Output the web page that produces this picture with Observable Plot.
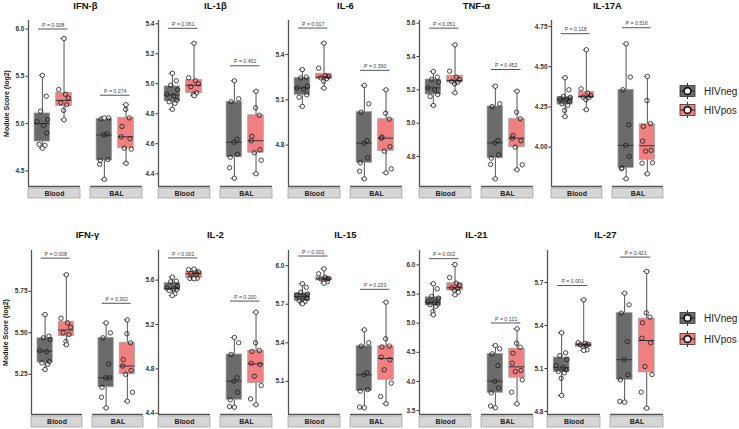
<!DOCTYPE html>
<html><head><meta charset="utf-8">
<script src="https://cdn.jsdelivr.net/npm/d3@7"></script>
<script src="https://cdn.jsdelivr.net/npm/@observablehq/plot@0.6"></script>
<style>
body{margin:0;background:#fff;font-family:"Liberation Sans",Arial,sans-serif}
#root{position:relative;width:739px;height:429px;overflow:hidden}
#root > svg{position:absolute}
</style></head><body><div id="root"></div>
<script>
const cytokines = ["IFN-β","IL-1β","IL-6","TNF-α","IL-17A","IFN-γ","IL-2","IL-15","IL-21","IL-27"];
const tissues = ["Blood","BAL"];
const groups = ["HIVneg","HIVpos"];

const bloodNeg = [
  [5.51,5.29,5.13,5.04,5.02,4.98,4.90,4.78,4.77,4.74],
  [5.07,5.02,4.99,4.96,4.93,4.92,4.89,4.88,4.87,4.83],
  [5.30,5.25,5.245,5.19,5.178,5.17,5.133,5.117,5.056],
  [5.31,5.276,5.262,5.246,5.212,5.20,5.172,5.16,5.106],
  [4.432,4.357,4.315,4.31,4.30,4.295,4.285,4.27,4.26,4.228,4.19],
  [5.61,5.48,5.47,5.46,5.393,5.387,5.327,5.319,5.31,5.279],
  [5.627,5.59,5.585,5.545,5.53,5.522,5.515,5.506,5.477,5.461],
  [5.86,5.832,5.793,5.78,5.77,5.76,5.745,5.73,5.72,5.71,5.703],
  [5.676,5.59,5.458,5.43,5.37,5.36,5.33,5.316,5.29,5.20,5.144],
  [5.349,5.209,5.19,5.163,5.121,5.105,5.091,5.079,5.07,5.032,4.912]
];
const bloodPos = [
  [5.90,5.36,5.31,5.27,5.22,5.20,5.14,5.04],
  [5.27,5.04,5.02,5.00,4.98,4.94,4.93,4.92],
  [5.475,5.309,5.26,5.255,5.245,5.24,5.223,5.177],
  [5.47,5.312,5.276,5.262,5.25,5.246,5.236,5.182],
  [4.606,4.363,4.336,4.32,4.311,4.308,4.295,4.233],
  [5.85,5.588,5.56,5.534,5.50,5.49,5.448,5.428],
  [5.70,5.695,5.678,5.675,5.66,5.655,5.62,5.617,5.615,5.612],
  [5.975,5.937,5.91,5.90,5.897,5.895,5.885,5.875,5.863],
  [6.007,5.784,5.686,5.647,5.607,5.60,5.56,5.532,5.487],
  [5.579,5.28,5.275,5.27,5.265,5.26,5.25,5.23,5.226]
];
const balNeg = [
  [5.06,5.06,5.05,4.89,4.88,4.62,4.61,4.57,4.41],
  [5.02,4.90,4.88,4.63,4.61,4.53,4.51,4.44,4.37],
  [5.195,5.074,5.018,4.83,4.813,4.716,4.683,4.627,4.577],
  [5.222,5.116,5.10,4.896,4.882,4.81,4.79,4.752,4.666],
  [4.643,4.436,4.357,4.139,4.011,3.942,3.87,3.866,3.803],
  [5.56,5.50,5.47,5.313,5.229,5.229,5.172,5.112,5.048],
  [5.083,5.035,4.93,4.72,4.689,4.59,4.522,4.46,4.455],
  [5.501,5.40,5.374,5.167,5.151,5.036,5.024,4.90,4.894],
  [4.617,4.56,4.475,4.274,4.005,3.892,3.806,3.58,3.549],
  [5.625,5.544,5.486,5.288,5.161,5.056,5.021,4.87,4.865]
];
const balPos = [
  [5.20,5.15,5.06,4.97,4.86,4.84,4.74,4.73,4.58],
  [4.95,4.84,4.79,4.65,4.62,4.56,4.54,4.49,4.40],
  [5.166,5.011,4.972,4.853,4.846,4.79,4.76,4.643,4.617],
  [5.192,5.066,5.026,4.926,4.91,4.894,4.856,4.75,4.72],
  [4.44,4.29,4.146,4.129,4.037,3.98,3.975,3.903,3.90,3.834],
  [5.578,5.494,5.44,5.339,5.30,5.273,5.25,5.142,5.088],
  [5.311,5.035,4.966,4.957,4.85,4.84,4.734,4.65,4.53,4.477],
  [5.716,5.431,5.375,5.368,5.288,5.268,5.19,5.086,4.982,4.926],
  [4.904,4.657,4.588,4.485,4.314,4.189,4.17,4.029,3.817,3.617],
  [5.777,5.488,5.458,5.419,5.311,5.279,5.114,5.058,4.935,4.823]
];
const pBlood = ["P = 0.008","P = 0.061","P = 0.017","P = 0.051","P = 0.118","P = 0.008","P < 0.001","P < 0.001","P = 0.002","P = 0.001"];
const pBAL = ["P = 0.274","P = 0.452","P = 0.390","P = 0.452","P = 0.516","P = 0.302","P = 0.200","P = 0.223","P = 0.121","P = 0.421"];
const yTickLabels = [
  ["4.5","5.0","5.5","6.0"],
  ["4.4","4.6","4.8","5.0","5.2","5.4"],
  ["4.8","5.1","5.4"],
  ["4.8","5.0","5.2","5.4","5.6"],
  ["4.00","4.25","4.50","4.75"],
  ["5.25","5.50","5.75"],
  ["4.4","4.8","5.2","5.6"],
  ["5.1","5.4","5.7","6.0"],
  ["3.5","4.0","4.5","5.0","5.5","6.0"],
  ["4.8","5.1","5.4","5.7"]
];
const yLimits = [
  [4.335,6.09],[4.315,5.422],[4.526,5.625],[4.62,5.616],[3.755,4.788],
  [5.008,5.996],[4.389,5.867],[4.842,6.118],[3.434,6.247],[4.779,5.923]
];
const yLabel = "Module Score (log2)";

// layout (pixels)
const panelX = [[27,143],[157,273],[288,403],[418,534],[551,664],
                [31,143],[157,273],[288,403],[418,534],[547,664]];
const groupColor = ["#6b6b6b","#f08080"];
const jitter = [-0.22,0.18,-0.08,0.24,-0.25,0.06,0.2,-0.15,0.12,-0.02,0.15,-0.19];
const font = "'Liberation Sans', Arial, Helvetica, sans-serif";

const root = document.getElementById("root");

function panel(i) {
  const row = i < 5 ? 0 : 1;
  const [ax, rx] = panelX[i];
  const W = rx - ax;
  const mL = 27, mR = 2;
  const top = row === 0 ? 0 : 214;
  const height = row === 0 ? 200 : 215;
  const mT = row === 0 ? 20 : 36;
  const mB = row === 0 ? 14 : 15;
  const innerH = height - mT - mB;
  const [lo, hi] = yLimits[i];
  const ppu = innerH / (hi - lo);
  const px = p => p / ppu;
  const pad = 10 / ((W + 10) / 2);
  const step = W / (2 - pad), bw = step * (1 - pad);
  const xMin = -0.64, xMax = 1.76;
  const unit = bw / (xMax - xMin);

  const lists = [[bloodNeg[i], balNeg[i]], [bloodPos[i], balPos[i]]];
  const stats = [];
  const points = [];
  tissues.forEach((t, ti) => groups.forEach((g, gi) => {
    const v = lists[gi][ti];
    const s = {tissue: t, group: g, xc: gi,
      q1: d3.quantile(v, 0.25), med: d3.quantile(v, 0.5), q3: d3.quantile(v, 0.75),
      min: d3.min(v), max: d3.max(v)};
    stats.push(s);
    let endSeen = {min: false, max: false};
    v.forEach((y, j) => {
      let end = false;
      if (y === s.max && !endSeen.max) { end = true; endSeen.max = true; }
      else if (y === s.min && !endSeen.min) { end = true; endSeen.min = true; }
      points.push({tissue: t, group: g, y, end, x: gi + (end ? 0 : jitter[(j + gi * 3 + ti * 5) % jitter.length])});
    });
  }));
  const caps = stats.flatMap(s => [{...s, v: s.min}, {...s, v: s.max}]);
  const brackets = tissues.map((t, k) => ({tissue: t, label: k === 0 ? pBlood[i] : pBAL[i],
    y: d3.max(stats.filter(s => s.tissue === t), s => s.max) + 0.1}));
  const strips = tissues.map(t => ({tissue: t}));
  const tickVals = yTickLabels[i].map(Number);
  const titleX = xMin + (W / 2) / unit;
  const stripH = row === 0 ? 10 : 11;

  const marks = [
    Plot.rect(strips, {fx: "tissue", x1: xMin, x2: xMax, y1: lo - px(2), y2: lo - px(2 + stripH),
      fill: "#d6d6d6", stroke: "#a6a6a6", strokeWidth: 0.8}),
    Plot.text(strips, {fx: "tissue", x: (xMin + xMax) / 2, y: lo - px(2 + stripH / 2), text: "tissue",
      fontSize: 7, fontWeight: "bold", fill: "#222"}),
    Plot.ruleY([lo], {stroke: "#555", strokeWidth: 1.3}),
    Plot.ruleX([{tissue: "Blood"}], {fx: "tissue", x: () => xMin, stroke: "#555", strokeWidth: 1.3}),
    Plot.ruleX(stats, {fx: "tissue", x: "xc", y1: "min", y2: "max", stroke: "#555", strokeWidth: 1}),
    Plot.ruleY(caps, {fx: "tissue", y: "v", x1: d => d.xc - 0.15, x2: d => d.xc + 0.15, stroke: "#444", strokeWidth: 0.9}),
    Plot.rect(stats, {fx: "tissue", x1: d => d.xc - 0.36, x2: d => d.xc + 0.36, y1: "q1", y2: "q3",
      fill: "group", stroke: "#a0a0a0", strokeWidth: 0.7}),
    Plot.ruleY(stats, {fx: "tissue", y: "med", x1: d => d.xc - 0.36, x2: d => d.xc + 0.36, stroke: "#333", strokeWidth: 1}),
    Plot.dot(points.filter(d => !d.end), {fx: "tissue", x: "x", y: "y", r: 2.2, stroke: "#1a1a1a", strokeWidth: 0.8, fill: "none"}),
    Plot.dot(points.filter(d => d.end), {fx: "tissue", x: "x", y: "y", r: 2.2, stroke: "#1a1a1a", strokeWidth: 0.8, fill: "white"}),
    Plot.ruleY(brackets, {fx: "tissue", y: "y", x1: -0.18, x2: 1.18, stroke: "#555", strokeWidth: 1}),
    Plot.text(brackets, {fx: "tissue", x: 0.5, y: "y", dy: -4, text: "label", fontSize: 5.2, fontWeight: "normal", fill: "#444"}),
    Plot.text([{tissue: "Blood", t: cytokines[i]}], {fx: "tissue", x: () => titleX, frameAnchor: "top", lineAnchor: "middle",
      dy: row === 0 ? -14.5 : -16, text: "t", fontSize: 9.5, fontWeight: "bold", fill: "#111"})
  ];
  if (i === 0 || i === 5) {
    marks.push(Plot.text([{tissue: "Blood", t: yLabel}], {fx: "tissue", x: () => xMin, dx: -(ax - 5), rotate: -90,
      text: "t", fontSize: 7, fontWeight: "bold", fill: "#111"}));
  }

  const plot = Plot.plot({
    width: mL + W + mR, height,
    marginLeft: mL, marginRight: mR, marginTop: mT, marginBottom: mB,
    style: {fontFamily: font, fontSize: "6.5px", fontWeight: "bold", color: "#333", background: "transparent", overflow: "visible"},
    fx: {domain: tissues, paddingInner: pad, paddingOuter: 0, axis: null, label: null},
    x: {domain: [xMin, xMax], axis: null},
    y: {domain: [lo, hi], ticks: tickVals, axis: "left", label: null, tickSize: 2.5, tickPadding: 1.5,
        tickFormat: d => yTickLabels[i].find(l => Math.abs(Number(l) - d) < 1e-9) ?? ""},
    color: {domain: groups, range: groupColor},
    marks
  });
  plot.style.left = (ax - mL) + "px";
  plot.style.top = top + "px";
  root.appendChild(plot);
}

for (let i = 0; i < cytokines.length; i++) panel(i);

function legend(cy1, cy2) {
  const svg = d3.create("svg").attr("width", 63).attr("height", cy2 - cy1 + 20)
    .style("left", "676px").style("top", (cy1 - 10) + "px");
  [cy1, cy2].forEach((cy, k) => {
    const y = cy - cy1 + 10;
    const g = svg.append("g");
    g.append("line").attr("x1", 11.5).attr("x2", 11.5).attr("y1", y - 8).attr("y2", y + 8).attr("stroke", "#333").attr("stroke-width", 1);
    g.append("rect").attr("x", 4).attr("y", y - 5.5).attr("width", 15).attr("height", 11)
      .attr("fill", groupColor[k]).attr("stroke", "#333").attr("stroke-width", 0.8);
    g.append("line").attr("x1", 4).attr("x2", 19).attr("y1", y).attr("y2", y).attr("stroke", "#222").attr("stroke-width", 1);
    g.append("circle").attr("cx", 11.5).attr("cy", y).attr("r", 3.4).attr("fill", "white").attr("stroke", "#111").attr("stroke-width", 1.6);
    g.append("text").attr("x", 28).attr("y", y).attr("dy", "0.35em").attr("font-size", 10)
      .attr("font-family", font).attr("fill", "#222").text(groups[k]);
  });
  root.appendChild(svg.node());
}
legend(91, 110);
legend(318, 339);
</script></body></html>
